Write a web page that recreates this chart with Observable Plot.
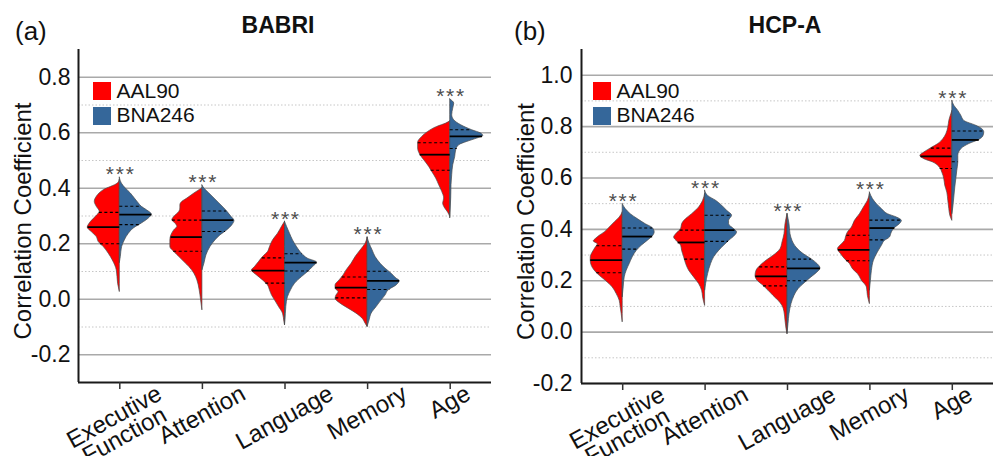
<!DOCTYPE html>
<html><head><meta charset="utf-8">
<script src="https://cdn.jsdelivr.net/npm/d3@7"></script>
<script src="https://cdn.jsdelivr.net/npm/@observablehq/plot@0.6"></script>
<style>
body{margin:0;background:#fff;font-family:"Liberation Sans",Arial,Helvetica,sans-serif;color:#111;}
#wrap{display:flex;width:996px;height:456px;overflow:hidden;}
.panel{position:relative;width:498px;height:456px;}
.panel svg{position:absolute;left:0;top:0;}
.tag{position:absolute;font-size:26px;line-height:26px;white-space:nowrap;}
.title{position:absolute;font-size:23px;line-height:23px;font-weight:bold;width:200px;text-align:center;}
.sw{position:absolute;width:18px;height:18px;}
.lt{position:absolute;font-size:21px;line-height:21px;white-space:nowrap;}
</style></head><body><div id="wrap"></div>
<script>
// ---------- categories / series ----------
const categories = ["Executive\nFunction", "Attention", "Language", "Memory", "Age"];
const atlases = ["AAL90", "BNA246"];

// ---------- BABRI density profiles: [correlation, relative density] ----------
const babri_aal90_ef = [[0.43,0],[0.417,2],[0.393,16],[0.369,23],[0.351,25],[0.333,23],[0.315,20],[0.297,24],[0.273,30],[0.258,32],[0.242,28],[0.224,23],[0.206,21],[0.188,16],[0.164,11],[0.140,7],[0.104,3],[0.056,1.7],[0.026,0]];
const babri_aal90_att = [[0.40,0],[0.381,8],[0.363,15],[0.351,20],[0.339,22],[0.327,22],[0.315,23],[0.297,28],[0.285,30],[0.273,27],[0.261,25],[0.249,28],[0.230,31],[0.212,32],[0.188,32],[0.170,28],[0.152,23],[0.134,18],[0.116,13],[0.092,8],[0.068,5],[0.032,2.7],[-0.004,1.3],[-0.04,0]];
const babri_aal90_lang = [[0.279,0],[0.261,3],[0.236,7],[0.212,12],[0.188,15],[0.170,17],[0.152,22],[0.134,26],[0.116,30],[0.104,33],[0.086,28],[0.068,22],[0.050,17],[0.032,15],[0.014,13],[-0.004,10],[-0.028,6],[-0.052,2],[-0.082,0.6],[-0.094,0]];
const babri_aal90_mem = [[0.222,0],[0.200,2],[0.176,7],[0.152,12],[0.128,16],[0.104,21],[0.086,24],[0.068,28],[0.050,32],[0.038,32],[0.026,29],[0.014,31],[0.002,32],[-0.016,27],[-0.034,19],[-0.052,11],[-0.070,5],[-0.088,2],[-0.100,0]];
const babri_aal90_age = [[0.641,0],[0.633,4],[0.621,13],[0.603,22],[0.585,28],[0.564,32],[0.543,32],[0.521,30],[0.501,26],[0.477,21],[0.459,18],[0.435,14],[0.411,11],[0.387,8],[0.363,6],[0.345,7],[0.327,5],[0.312,2],[0.297,0]];

const babri_bna246_ef = [[0.438,0],[0.417,2],[0.399,6],[0.381,11],[0.363,15],[0.345,19],[0.333,22],[0.321,27],[0.305,32],[0.291,29],[0.273,22],[0.255,14],[0.236,9],[0.212,5],[0.188,2.3],[0.152,1],[0.13,0]];
const babri_bna246_att = [[0.41,0],[0.399,2],[0.381,7],[0.363,12],[0.345,17],[0.327,22],[0.315,25],[0.297,29],[0.282,32],[0.267,30],[0.249,25],[0.230,18],[0.212,13],[0.188,8],[0.158,4],[0.128,2],[0.104,0]];
const babri_bna246_lang = [[0.279,0],[0.261,2],[0.236,5],[0.212,8],[0.188,12],[0.164,17],[0.146,23],[0.132,32],[0.116,28],[0.098,23],[0.080,17],[0.056,10],[0.032,6],[0.008,3],[-0.028,1.3],[-0.076,0.5],[-0.094,0]];
const babri_bna246_mem = [[0.222,0],[0.200,2],[0.176,5],[0.152,8],[0.128,13],[0.110,18],[0.092,24],[0.074,29],[0.066,32],[0.050,29],[0.032,21],[0.014,18],[-0.004,14],[-0.028,9],[-0.052,4],[-0.076,2],[-0.100,0]];
const babri_bna246_age = [[0.720,0],[0.705,4],[0.687,3],[0.663,2],[0.645,4],[0.627,11],[0.609,22],[0.597,31],[0.588,33],[0.579,27],[0.567,17],[0.555,9],[0.537,6],[0.513,5],[0.483,3],[0.447,2],[0.411,1.3],[0.363,1],[0.291,0]];

// ---------- HCP-A density profiles ----------
const hcp_aal90_ef = [[0.466,0],[0.446,3],[0.427,8],[0.407,13],[0.388,18],[0.375,23],[0.362,27],[0.353,29],[0.342,25],[0.329,27],[0.310,30],[0.291,32],[0.278,32],[0.258,31],[0.239,28],[0.219,23],[0.200,17],[0.174,10],[0.148,6],[0.122,3],[0.096,2],[0.070,1],[0.038,0]];
const hcp_aal90_att = [[0.537,0],[0.511,2],[0.485,6],[0.459,13],[0.440,19],[0.420,23],[0.401,24],[0.381,29],[0.368,31],[0.353,28],[0.336,24],[0.316,23],[0.291,21],[0.265,19],[0.239,16],[0.213,11],[0.187,6],[0.161,3],[0.135,2],[0.102,0]];
const hcp_aal90_lang = [[0.459,0],[0.420,2],[0.381,3],[0.349,5],[0.323,7],[0.297,14],[0.278,21],[0.258,27],[0.239,31],[0.219,32],[0.200,30],[0.180,24],[0.161,19],[0.141,14],[0.122,9],[0.102,5],[0.077,3],[0.044,2],[0.012,1],[-0.008,0]];
const hcp_aal90_mem = [[0.537,0],[0.511,2],[0.485,6],[0.459,10],[0.433,15],[0.407,18],[0.388,22],[0.368,24],[0.355,25],[0.342,28],[0.323,32],[0.304,29],[0.284,25],[0.265,20],[0.245,17],[0.226,12],[0.200,8],[0.174,3],[0.141,2],[0.109,0]];
const hcp_aal90_age = [[0.860,0],[0.848,1],[0.822,3],[0.796,4],[0.770,6],[0.751,9],[0.732,14],[0.716,21],[0.699,28],[0.686,32],[0.673,28],[0.660,19],[0.643,13],[0.621,10],[0.595,8],[0.569,7],[0.543,5],[0.511,4],[0.479,3],[0.453,2],[0.433,0]];

const hcp_bna246_ef = [[0.498,0],[0.479,3],[0.459,8],[0.440,15],[0.420,23],[0.405,30],[0.388,32],[0.372,30],[0.355,25],[0.336,19],[0.316,14],[0.291,10],[0.265,7],[0.239,4],[0.213,2],[0.174,1],[0.135,0]];
const hcp_bna246_att = [[0.550,0],[0.530,3],[0.511,11],[0.492,17],[0.472,22],[0.453,27],[0.433,24],[0.420,24],[0.401,29],[0.388,32],[0.375,30],[0.355,24],[0.336,19],[0.316,14],[0.291,9],[0.265,6],[0.226,3],[0.187,1],[0.161,0]];
const hcp_bna246_lang = [[0.459,0],[0.420,2],[0.381,3],[0.355,5],[0.329,9],[0.304,16],[0.284,24],[0.265,30],[0.248,33],[0.232,30],[0.213,24],[0.193,18],[0.167,11],[0.141,7],[0.109,4],[0.070,2],[0.031,1],[-0.008,0]];
const hcp_bna246_mem = [[0.543,0],[0.518,3],[0.498,7],[0.479,12],[0.459,18],[0.446,27],[0.433,32],[0.420,30],[0.405,25],[0.388,22],[0.368,20],[0.355,15],[0.336,12],[0.310,8],[0.278,4],[0.239,2],[0.200,1],[0.161,0]];
const hcp_bna246_age = [[0.900,0],[0.881,2],[0.861,6],[0.842,9],[0.822,12],[0.803,24],[0.790,30],[0.777,32],[0.761,31],[0.748,27],[0.732,17],[0.712,9],[0.686,6],[0.660,6],[0.628,5],[0.595,4],[0.563,3],[0.524,2],[0.485,1],[0.459,0]];

// ---------- quartiles [Q1, median, Q3] per category ----------
const babri_aal90_quartiles  = [[0.200,0.260,0.313],[0.173,0.224,0.285],[0.058,0.103,0.149],[0.005,0.042,0.080],[0.465,0.521,0.564]];
const babri_bna246_quartiles = [[0.269,0.305,0.335],[0.244,0.285,0.318],[0.102,0.132,0.164],[0.035,0.066,0.101],[0.543,0.587,0.611]];
const hcp_aal90_quartiles    = [[0.231,0.280,0.336],[0.284,0.349,0.397],[0.180,0.217,0.254],[0.278,0.320,0.377],[0.637,0.684,0.716]];
const hcp_bna246_quartiles   = [[0.323,0.372,0.405],[0.353,0.397,0.455],[0.200,0.248,0.284],[0.359,0.405,0.436],[0.663,0.748,0.783]];

// ---------- significance labels ----------
const significance = ["***","***","***","***","***"];

// ---------- axis ticks ----------
const babriTicks = [-0.2, 0.0, 0.2, 0.4, 0.6, 0.8];
const babriMinor = [-0.1, 0.1, 0.3, 0.5, 0.7];
const babriDomain = [-0.3, 0.9];
const hcpTicks = [-0.2, 0.0, 0.2, 0.4, 0.6, 0.8, 1.0];
const hcpMinor = [-0.1, 0.1, 0.3, 0.5, 0.7, 0.9];
const hcpDomain = [-0.2, 1.1];

// ---------- styling ----------
const COLORS = ["#ff0000", "#35679a"];
const FONT = '"Liberation Sans", Arial, Helvetica, sans-serif';
const FS = 23;       // tick labels
const XFS = 24;      // category labels
const HALF = 0.4;    // widest half-violin, in category units
const ANGLE = -29;
const LH = 0.88;

const babriProfiles = [
  [babri_aal90_ef, babri_aal90_att, babri_aal90_lang, babri_aal90_mem, babri_aal90_age],
  [babri_bna246_ef, babri_bna246_att, babri_bna246_lang, babri_bna246_mem, babri_bna246_age]
];
const hcpProfiles = [
  [hcp_aal90_ef, hcp_aal90_att, hcp_aal90_lang, hcp_aal90_mem, hcp_aal90_age],
  [hcp_bna246_ef, hcp_bna246_att, hcp_bna246_lang, hcp_bna246_mem, hcp_bna246_age]
];
const DMAX = d3.max([babriProfiles, hcpProfiles].flat(3), p => p[1]);
const hw = d => d / DMAX * HALF;

function interp(profile, v) {
  const p = profile.slice().sort((a, b) => a[0] - b[0]);
  if (v <= p[0][0]) return p[0][1];
  for (let k = 1; k < p.length; k++) {
    if (v <= p[k][0]) {
      const t = (v - p[k-1][0]) / (p[k][0] - p[k-1][0]);
      return p[k-1][1] + t * (p[k][1] - p[k-1][1]);
    }
  }
  return p[p.length-1][1];
}

const ctx = document.createElement("canvas").getContext("2d");
ctx.font = `${XFS}px ${FONT}`;
function labelDy(label) {
  const lines = label.split("\n");
  const W = d3.max(lines, l => ctx.measureText(l).width);
  const H = 0.72 * XFS + (lines.length - 1) * XFS * LH;
  const a = Math.abs(ANGLE) * Math.PI / 180;
  return 2.5 + (W * Math.sin(a) + H * Math.cos(a)) / 2;
}

function buildPanel(cfg) {
  const {profiles, quartiles, domain, ticks, minor, marginLeft, marginRight, marginBottom, tickPadding} = cfg;
  const flat = [];
  profiles.forEach((byCat, j) => byCat.forEach((prof, i) =>
    prof.forEach(([v, d]) => flat.push({i, j, v, d}))));
  const qRows = [];
  quartiles.forEach((byCat, j) => byCat.forEach((q, i) => q.forEach((v, k) => {
    const w = hw(interp(profiles[j][i], v));
    qRows.push({i, j, k, v, x1: j === 0 ? i - w : i, x2: j === 0 ? i : i + w});
  })));
  const tops = categories.map((c, i) => ({
    i, v: d3.max(profiles[0][i].concat(profiles[1][i]), p => p[0]), s: significance[i]
  }));

  const marks = [
    Plot.ruleY(minor, {stroke: "#c6c6c6", strokeWidth: 1, strokeDasharray: "1.5,2"}),
    Plot.ruleY(ticks, {stroke: "#a9a9a9", strokeWidth: 1.6}),
  ];
  [0, 1].forEach(j => {
    marks.push(Plot.areaX(flat.filter(r => r.j === j), {
      y: "v",
      x1: r => j === 0 ? r.i - hw(r.d) : r.i,
      x2: r => j === 0 ? r.i : r.i + hw(r.d),
      z: "i", fill: COLORS[j], stroke: "#4a4a4a", strokeWidth: 0.7, curve: "monotone-y"
    }));
  });
  marks.push(
    Plot.ruleY(qRows.filter(r => r.k !== 1), {y: "v", x1: "x1", x2: "x2", stroke: "#000", strokeWidth: 1.1, strokeDasharray: "3,2.5"}),
    Plot.ruleY(qRows.filter(r => r.k === 1), {y: "v", x1: "x1", x2: "x2", stroke: "#000", strokeWidth: 1.8}),
    Plot.text(tops, {x: "i", y: "v", text: d => d.s.split("").join("\u200A"), fontSize: 21, fill: "#4d4d4d", dy: -3, lineAnchor: "middle"}),
    Plot.ruleX([-0.5], {stroke: "#1a1a1a", strokeWidth: 2}),
    Plot.ruleY([domain[0]], {stroke: "#1a1a1a", strokeWidth: 2}),
    Plot.axisY({ticks, tickSize: 0, tickPadding, tickFormat: d => d.toFixed(1), fontSize: FS, label: null, fill: "#111"}),
    Plot.axisX({ticks: [0, 1, 2, 3, 4], tickSize: 7, tickFormat: () => "", label: null, stroke: "#333", strokeWidth: 1.5}),
    Plot.text(["Correlation Coefficient"], {text: d => d, frameAnchor: "left", rotate: -90, dx: -64.5, dy: 5, lineAnchor: "top", textAnchor: "middle", fontSize: 24, fill: "#111"})
  );
  categories.forEach((lab, i) => {
    marks.push(Plot.text([lab], {x: () => i, text: d => d, frameAnchor: "bottom", rotate: ANGLE,
      textAnchor: "middle", lineAnchor: "middle", dy: labelDy(lab), fontSize: XFS, fill: "#111", lineHeight: LH}));
  });

  return Plot.plot({
    width: 498, height: 456,
    marginLeft, marginRight, marginTop: 49, marginBottom,
    x: {domain: [-0.5, 4.5]},
    y: {domain},
    style: {fontFamily: FONT, fontSize: FS + "px", background: "transparent", color: "#111", overflow: "visible"},
    marks
  });
}

function addPanel(cfg) {
  const div = document.createElement("div");
  div.className = "panel";
  div.appendChild(buildPanel(cfg));
  const tag = document.createElement("div");
  tag.className = "tag"; tag.textContent = cfg.tag;
  tag.style.left = cfg.tagLeft + "px"; tag.style.top = "18px";
  div.appendChild(tag);
  const title = document.createElement("div");
  title.className = "title"; title.textContent = cfg.title;
  title.style.left = (cfg.titleX - 100) + "px"; title.style.top = "14px";
  div.appendChild(title);
  atlases.forEach((a, j) => {
    const sw = document.createElement("div");
    sw.className = "sw"; sw.style.background = COLORS[j];
    sw.style.left = cfg.legendLeft + "px"; sw.style.top = (81.5 + 25 * j) + "px";
    div.appendChild(sw);
    const lt = document.createElement("div");
    lt.className = "lt"; lt.textContent = a;
    lt.style.left = (cfg.legendLeft + 23.5) + "px"; lt.style.top = (79.5 + 24.5 * j) + "px";
    div.appendChild(lt);
  });
  document.getElementById("wrap").appendChild(div);
}

addPanel({profiles: babriProfiles, quartiles: [babri_aal90_quartiles, babri_bna246_quartiles],
  domain: babriDomain, ticks: babriTicks, minor: babriMinor,
  marginLeft: 78, marginRight: 7, marginBottom: 74, tickPadding: 8,
  tag: "(a)", tagLeft: 15, title: "BABRI", titleX: 278, legendLeft: 93});
addPanel({profiles: hcpProfiles, quartiles: [hcp_aal90_quartiles, hcp_bna246_quartiles],
  domain: hcpDomain, ticks: hcpTicks, minor: hcpMinor,
  marginLeft: 83, marginRight: 3, marginBottom: 73, tickPadding: 9,
  tag: "(b)", tagLeft: 16, title: "HCP-A", titleX: 287, legendLeft: 95});
</script></body></html>
